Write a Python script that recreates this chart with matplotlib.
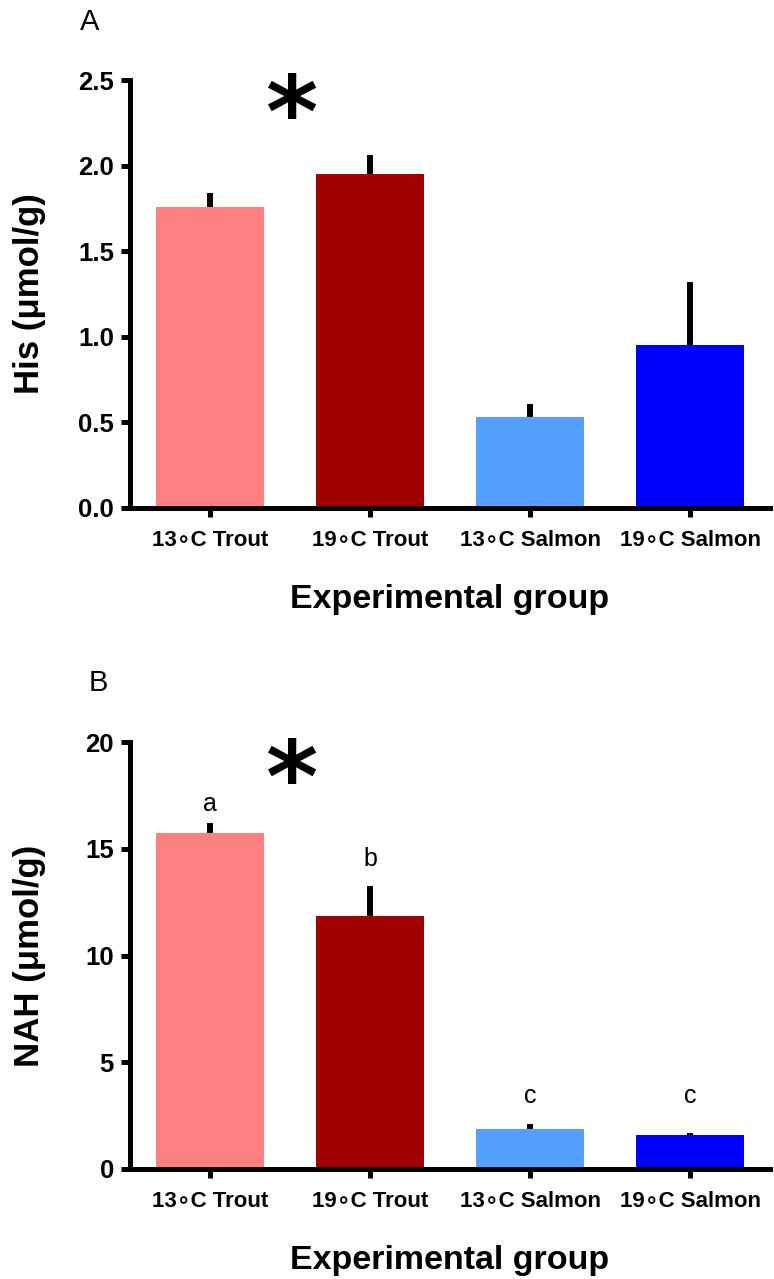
import numpy as np
import matplotlib
matplotlib.use("Agg")
import matplotlib.pyplot as plt

plt.rcParams['font.family'] = ['Liberation Sans', 'DejaVu Sans']

groups = ['13\u2218C Trout', '19\u2218C Trout', '13\u2218C Salmon', '19\u2218C Salmon']
colors = ['#FF8080', '#A00000', '#55A0FF', '#0000FF']

his_mean = [1.76, 1.95, 0.53, 0.95]
his_err = [0.08, 0.11, 0.08, 0.37]

nah_mean = [15.75, 11.85, 1.88, 1.60]
nah_err = [0.45, 1.40, 0.22, 0.10]
nah_letters = ['a', 'b', 'c', 'c']
nah_letter_y = [17.1, 14.5, 3.4, 3.4]

fig = plt.figure(figsize=(7.74, 12.79), dpi=100)
axA = fig.add_axes([130 / 774, 1 - 508 / 1279, 640 / 774, 428 / 1279])
axB = fig.add_axes([130 / 774, 1 - 1169 / 1279, 640 / 774, 427 / 1279])

x = np.arange(len(groups))


def draw_panel(ax, means, errs, ylim, yticks, ylabel, fmt):
    ax.bar(x, means, width=0.67, color=colors, zorder=2)
    ax.errorbar(x, means, yerr=[np.zeros(len(errs)), errs], fmt='none',
                ecolor='black', elinewidth=4.3, capsize=0, zorder=1)
    ax.set_xlim(-0.5, 3.5)
    ax.set_ylim(*ylim)
    ax.set_yticks(yticks)
    ax.set_yticklabels([fmt.format(t) for t in yticks], fontsize=18.5, fontweight='bold')
    ax.set_xticks(x)
    ax.set_xticklabels(groups, fontsize=16, fontweight='bold')
    for s in ['top', 'right']:
        ax.spines[s].set_visible(False)
    for s in ['left', 'bottom']:
        ax.spines[s].set_linewidth(3.6)
    ax.tick_params(axis='both', width=3.6, length=6.5)
    ax.tick_params(axis='x', pad=9)
    ax.tick_params(axis='y', pad=5)
    ax.set_ylabel(ylabel, fontsize=25, fontweight='bold')
    ax.yaxis.set_label_coords(-0.131, 0.5)
    ax.set_xlabel('Experimental group', fontsize=24.5, fontweight='bold')
    ax.xaxis.set_label_coords(0.5, -0.178)


draw_panel(axA, his_mean, his_err, (0, 2.5), [0.0, 0.5, 1.0, 1.5, 2.0, 2.5],
           'His (\u03bcmol/g)', '{:.1f}')
draw_panel(axB, nah_mean, nah_err, (0, 20), [0, 5, 10, 15, 20],
           'NAH (\u03bcmol/g)', '{:.0f}')

axA.text(0.51, 2.27, '*', fontsize=72, fontweight='bold', ha='center', va='center',
         family='DejaVu Sans', clip_on=False)
axB.text(0.51, 18.0, '*', fontsize=72, fontweight='bold', ha='center', va='center',
         family='DejaVu Sans', clip_on=False)

for xi, lab, ly in zip(x, nah_letters, nah_letter_y):
    axB.text(xi, ly, lab, fontsize=18, ha='center', va='center')

fig.text(90 / 774, 1 - 22 / 1279, 'A', fontsize=21, ha='center', va='center')
fig.text(98 / 774, 1 - 683 / 1279, 'B', fontsize=21, ha='center', va='center')

fig.savefig('out.png', dpi=100)
